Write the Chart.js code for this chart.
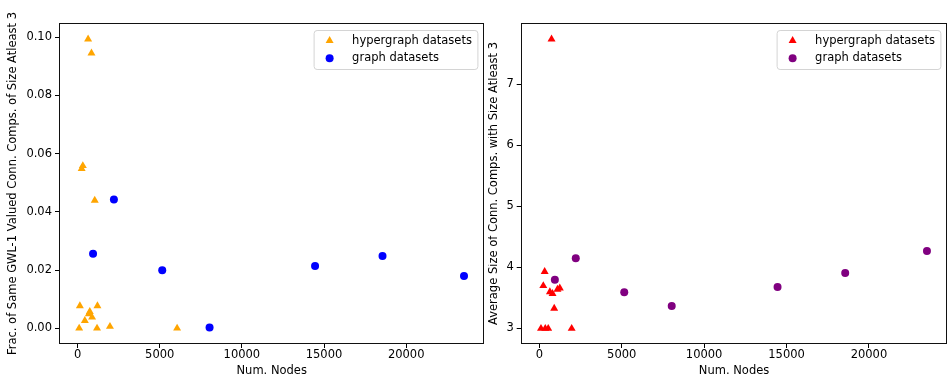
<!DOCTYPE html>
<html lang="en">
<head>
  <meta charset="UTF-8" />
  <title>Connected components vs nodes</title>
  <script src="https://cdn.jsdelivr.net/npm/chart.js"></script>
  <style>
    body { margin: 0; background: #fff; }
    .panel { position: absolute; top: 0; }
  </style>
</head>
<body>
  <div class="panel" style="left:0"><canvas id="fracChart" width="488" height="377"></canvas></div>
  <div class="panel" style="left:488px"><canvas id="sizeChart" width="463" height="377"></canvas></div>

  <script>
    // left panel: fraction of same GWL-1 valued components
    const hyperNodesFrac = [640, 845, 250, 320, 1045, 139, 1208, 743, 683, 882, 441, 97, 1184, 1970, 6058];
    const hyperFrac = [0.0993, 0.0945, 0.0548, 0.0558, 0.0439, 0.0077, 0.0077, 0.0057, 0.0049, 0.0038, 0.0026, 0.0, 0.0, 0.0006, 0.0];

    // right panel: average component size
    const hyperNodesSize = [740, 323, 240, 640, 800, 1100, 1242, 902, 100, 360, 540, 1962];
    const hyperSize = [7.74, 3.93, 3.70, 3.60, 3.57, 3.64, 3.66, 3.33, 3.0, 3.0, 3.0, 3.0];

    // graph datasets (same node counts in both panels)
    const graphNodes = [942, 2211, 5152, 8033, 14454, 18560, 23520];
    const graphFrac = [0.0256, 0.0442, 0.0199, 0.0003, 0.0214, 0.0248, 0.0180];
    const graphSize = [3.80, 4.15, 3.595, 3.37, 3.68, 3.91, 4.27];

    const xTicks = [0, 5000, 10000, 15000, 20000];
    const fracTicks = [0, 0.02, 0.04, 0.06, 0.08, 0.10];
    const sizeTicks = [3, 4, 5, 6, 7];

    const FONT = 'DejaVu Sans';
    const FS = 11.5;
    Chart.defaults.font.family = FONT;
    Chart.defaults.font.size = FS;
    Chart.defaults.color = '#000';

    const pts = (xs, ys) => xs.map((x, i) => ({ x: x, y: ys[i] }));

    // black frame round the plot area
    const framePlugin = {
      id: 'frame',
      afterDatasetsDraw(chart) {
        const { ctx, chartArea: a } = chart;
        ctx.save();
        ctx.strokeStyle = '#111';
        ctx.lineWidth = 1;
        const l = Math.round(a.left) - 0.5, t = Math.round(a.top) - 0.5;
        ctx.strokeRect(l, t, Math.round(a.right) - Math.round(a.left) + 1, Math.round(a.bottom) - Math.round(a.top) + 1);
        ctx.restore();
      }
    };

    // matplotlib-like legend box in the upper right corner
    const boxLegend = {
      id: 'boxLegend',
      afterDraw(chart) {
        const { ctx, chartArea: a } = chart;
        const sets = chart.data.datasets;
        ctx.save();
        ctx.font = FS + 'px "' + FONT + '"';
        const textW = Math.max(...sets.map(d => ctx.measureText(d.label).width));
        const w = 38.5 + textW + 5.5, h = 39;
        const x0 = a.right - 6 - w, y0 = a.top + 6;
        ctx.beginPath();
        ctx.roundRect(x0 + 0.5, y0 + 0.5, w, h, 3);
        ctx.fillStyle = 'rgba(255,255,255,0.8)';
        ctx.fill();
        ctx.strokeStyle = '#d4d4d4';
        ctx.lineWidth = 1;
        ctx.stroke();

        sets.forEach((d, i) => {
          const cx = x0 + 16, cy = y0 + 10.7 + i * 17.6;
          const r = d.pointRadius;
          ctx.fillStyle = d.backgroundColor;
          ctx.beginPath();
          if (d.pointStyle === 'triangle') {
            for (let k = 0; k < 3; k++) {
              const ang = k * 2 * Math.PI / 3;
              const px = cx + Math.sin(ang) * r, py = cy - Math.cos(ang) * r;
              k ? ctx.lineTo(px, py) : ctx.moveTo(px, py);
            }
            ctx.closePath();
          } else {
            ctx.arc(cx, cy, r, 0, 2 * Math.PI);
          }
          ctx.fill();
          ctx.fillStyle = '#000';
          ctx.textBaseline = 'middle';
          ctx.fillText(d.label, x0 + 38.5, cy);
        });
        ctx.restore();
      }
    };

    function makeChart(id, opts) {
      const tickGrid = {
        drawOnChartArea: false,
        drawTicks: true,
        tickLength: 5,
        color: '#000',
        lineWidth: 1
      };
      return new Chart(document.getElementById(id), {
        type: 'scatter',
        data: {
          datasets: [
            {
              label: 'hypergraph datasets',
              data: opts.hyper,
              pointStyle: 'triangle',
              pointRadius: 4.6,
              pointBorderWidth: 0,
              backgroundColor: opts.hyperColor,
              borderColor: opts.hyperColor
            },
            {
              label: 'graph datasets',
              data: opts.graph,
              pointStyle: 'circle',
              pointRadius: 4,
              pointBorderWidth: 0,
              backgroundColor: opts.graphColor,
              borderColor: opts.graphColor
            }
          ]
        },
        options: {
          responsive: false,
          animation: false,
          layout: { padding: { top: 24, right: opts.padRight, left: 0, bottom: 0 } },
          plugins: { legend: { display: false }, tooltip: { enabled: false } },
          scales: {
            x: {
              type: 'linear',
              min: -1070,
              max: 24700,
              grid: tickGrid,
              border: { display: false },
              afterBuildTicks: s => { s.ticks = xTicks.map(v => ({ value: v })); },
              afterFit: s => { s.height = 34; },
              ticks: { padding: 0, callback: v => String(v) },
              title: {
                display: true,
                text: 'Num. Nodes',
                font: { lineHeight: 1 },
                padding: { top: 0, bottom: 0 }
              }
            },
            y: {
              type: 'linear',
              min: opts.yMin,
              max: opts.yMax,
              grid: tickGrid,
              border: { display: false },
              afterBuildTicks: s => { s.ticks = opts.yTicks.map(v => ({ value: v })); },
              afterFit: s => { s.width = opts.yWidth; },
              ticks: { padding: 3, callback: opts.yFmt },
              title: {
                display: true,
                text: opts.yTitle,
                font: { lineHeight: 1 },
                padding: { top: opts.yTitlePad, bottom: 0 }
              }
            }
          }
        },
        plugins: [framePlugin, boxLegend]
      });
    }

    makeChart('fracChart', {
      hyper: pts(hyperNodesFrac, hyperFrac),
      graph: pts(graphNodes, graphFrac),
      hyperColor: '#FFA500',
      graphColor: '#0000FF',
      yMin: -0.00505,
      yMax: 0.1045,
      yTicks: fracTicks,
      yFmt: v => v.toFixed(2),
      yWidth: 60,
      yTitle: 'Frac. of Same GWL-1 Valued Conn. Comps. of Size Atleast 3',
      yTitlePad: 7,
      padRight: 1
    });

    makeChart('sizeChart', {
      hyper: pts(hyperNodesSize, hyperSize),
      graph: pts(graphNodes, graphSize),
      hyperColor: '#FF0000',
      graphColor: '#800080',
      yMin: 2.7625,
      yMax: 7.9875,
      yTicks: sizeTicks,
      yFmt: v => String(v),
      yWidth: 33.7,
      yTitle: 'Average Size of Conn. Comps. with Size Atleast 3',
      yTitlePad: 0,
      padRight: 2.7
    });
  </script>
</body>
</html>
